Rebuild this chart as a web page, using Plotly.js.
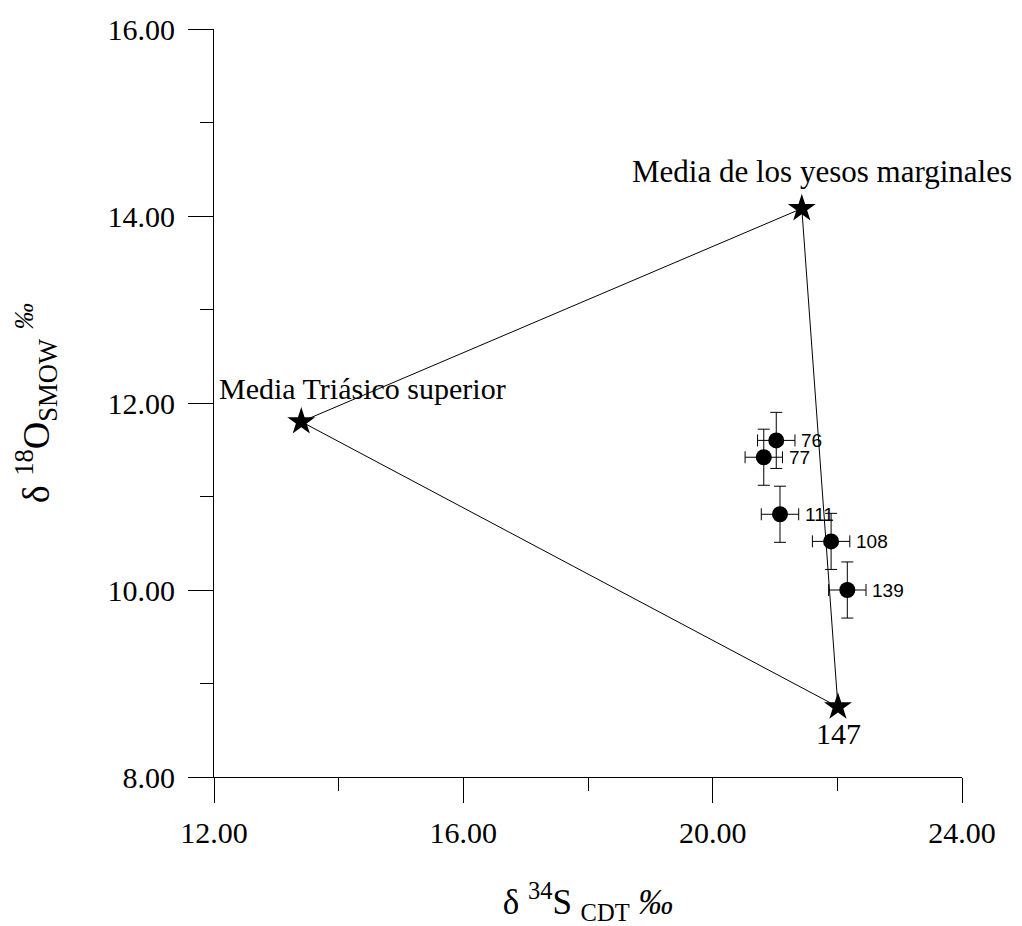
<!DOCTYPE html>
<html>
<head>
<meta charset="utf-8">
<script src="https://cdn.plot.ly/plotly-3.0.1.min.js"></script>
<style>
  html, body { margin: 0; padding: 0; background: #fff; }
  #chart { width: 1022px; height: 926px; }
</style>
</head>
<body>
<div id="chart"></div>
<script>
// Sulphate samples: delta34S and delta18O with analytical uncertainty
const sampleIds = ['76', '77', '111', '108', '139'];
const d34S = [21.02, 20.82, 21.08, 21.90, 22.16];
const d18O = [11.60, 11.42, 10.81, 10.52, 10.00];
const errS = [0.3, 0.3, 0.3, 0.3, 0.3];
const errO = [0.3, 0.3, 0.3, 0.3, 0.3];

// End members of the mixing triangle
const endNames = ['Media Triásico superior', 'Media de los yesos marginales', '147'];
const endS = [13.40, 21.43, 22.01];
const endO = [11.80, 14.08, 8.75];

// Axis ticks
const xTicks = [12, 16, 20, 24];
const yTicks = [8, 10, 12, 14, 16];

const serif = '"Liberation Serif", "Times New Roman", Times, serif';
const sans = '"Liberation Sans", Arial, Helvetica, sans-serif';

const triangle = {
  x: endS.concat([endS[0]]),
  y: endO.concat([endO[0]]),
  mode: 'lines',
  type: 'scatter',
  line: { color: '#000', width: 1 },
  hoverinfo: 'skip',
  showlegend: false
};

const stars = {
  x: endS,
  y: endO,
  mode: 'markers',
  type: 'scatter',
  marker: { symbol: 'star', size: 21, color: '#000', line: { width: 0 } },
  showlegend: false
};

const samples = {
  x: d34S,
  y: d18O,
  mode: 'markers',
  type: 'scatter',
  marker: { symbol: 'circle', size: 16, color: '#000' },
  error_x: { type: 'data', array: errS, visible: true, color: '#000', thickness: 1, width: 6 },
  error_y: { type: 'data', array: errO, visible: true, color: '#000', thickness: 1, width: 6 },
  showlegend: false
};

const annotations = [];
// sample labels to the right of each error bar
sampleIds.forEach((id, i) => {
  annotations.push({
    x: d34S[i], y: d18O[i], text: id, showarrow: false,
    xanchor: 'left', yanchor: 'middle', xshift: 23,
    font: { family: sans, size: 19, color: '#000' }
  });
});
// end member labels
const endLabelPos = [
  { xanchor: 'left', yanchor: 'bottom', xshift: -84, yshift: 15, size: 30 },
  { xanchor: 'left', yanchor: 'bottom', xshift: -172, yshift: 18, size: 31 },
  { xanchor: 'center', yanchor: 'top', xshift: 1, yshift: -8, size: 30 }
];
endNames.forEach((name, i) => {
  const p = endLabelPos[i];
  annotations.push({
    x: endS[i], y: endO[i], text: name, showarrow: false,
    xanchor: p.xanchor, yanchor: p.yanchor, xshift: p.xshift, yshift: p.yshift,
    font: { family: serif, size: p.size, color: '#000' }
  });
});

const layout = {
  width: 1022,
  height: 926,
  margin: { l: 214, r: 60, t: 29, b: 149 },
  paper_bgcolor: '#fff',
  plot_bgcolor: '#fff',
  font: { family: serif, color: '#000' },
  xaxis: {
    range: [12, 24],
    tickvals: xTicks,
    ticktext: xTicks.map(v => v.toFixed(2)),
    showline: true, linecolor: '#000', linewidth: 1,
    ticks: 'outside', ticklen: 25, tickwidth: 1, tickcolor: '#000',
    minor: { dtick: 2, tick0: 12, ticks: 'outside', ticklen: 13, tickwidth: 1, tickcolor: '#000', showgrid: false },
    ticklabelstandoff: 4,
    tickfont: { family: serif, size: 30, color: '#000' },
    showgrid: false, zeroline: false,
    title: {
      text: 'δ <sup>34</sup>S <sub>CDT</sub> <i>‰</i>',
      font: { family: serif, size: 35, color: '#000' },
      standoff: 44
    }
  },
  yaxis: {
    range: [8, 16],
    tickvals: yTicks,
    ticktext: yTicks.map(v => v.toFixed(2)),
    showline: true, linecolor: '#000', linewidth: 1,
    ticks: 'outside', ticklen: 25, tickwidth: 1, tickcolor: '#000',
    minor: { dtick: 1, tick0: 8, ticks: 'outside', ticklen: 13, tickwidth: 1, tickcolor: '#000', showgrid: false },
    ticklabelstandoff: 7,
    tickfont: { family: serif, size: 30, color: '#000' },
    showgrid: false, zeroline: false,
    title: {
      text: 'δ <sup>18</sup>O<sub>SMOW</sub> <sup><i>‰</i></sup>',
      font: { family: serif, size: 38, color: '#000' },
      standoff: 46
    }
  },
  annotations: annotations,
  showlegend: false
};

Plotly.newPlot('chart', [triangle, samples, stars], layout, { displayModeBar: false, staticPlot: true });
</script>
</body>
</html>
